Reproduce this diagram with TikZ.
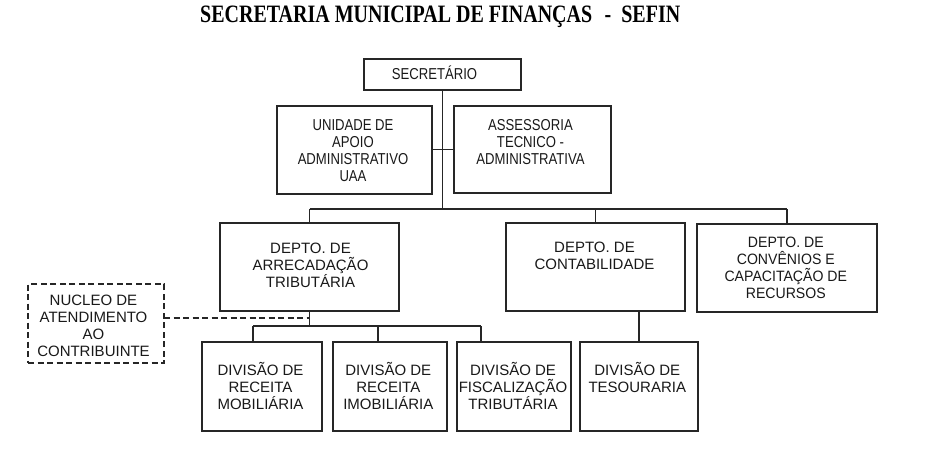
\documentclass[tikz,border=0pt]{standalone}
\usepackage{fontspec}
\setmainfont{Liberation Sans}
\newfontfamily\narrowsans{Liberation Sans}[FakeStretch=0.83]
\newfontfamily\midsans{Liberation Sans}[FakeStretch=0.94]
\newfontfamily\titlefont{Liberation Serif}[FakeStretch=0.80]
\newcommand\ts{\rule{0pt}{12pt}}
\begin{document}
\begin{tikzpicture}[x=1pt,y=-1pt,
  box/.style={draw=black!85, line width=1.1pt, rectangle, inner sep=0pt, outer sep=0pt},
  dbox/.style={draw=black!85, line width=1.8pt, dash pattern=on 6pt off 3.5pt, rectangle, inner sep=0pt, outer sep=0pt},
  txt/.style={anchor=north, inner sep=0pt, align=center, text=black!90, font=\fontsize{15}{17}\selectfont},
  ntxt/.style={txt, font=\narrowsans\fontsize{15.8}{17}\selectfont},
  mtxt/.style={txt, font=\midsans\fontsize{15}{17}\selectfont},
  conn/.style={draw=black!85, line width=1.1pt},
  dconn/.style={draw=black!85, line width=1.8pt, dash pattern=on 6pt off 3.5pt}]
\useasboundingbox[fill=white] (0,0) rectangle (926,469);
% title
\node[anchor=base west, inner sep=0pt, font=\titlefont\bfseries\fontsize{25}{28}\selectfont] (title) at (200,22.3) {SECRETARIA MUNICIPAL DE FINANÇAS\hspace{0.5em}-\hspace{0.4em}SEFIN};
% boxes
\node[box, minimum width=157pt, minimum height=31pt] (sec) at (442.5,74.5) {};
\node[box, minimum width=155pt, minimum height=88pt] (uaa) at (354.5,150) {};
\node[box, minimum width=157pt, minimum height=87pt] (ass) at (532.5,149.5) {};
\node[box, minimum width=179pt, minimum height=88pt] (arr) at (309.5,267) {};
\node[box, minimum width=179pt, minimum height=88pt] (con) at (595.5,267) {};
\node[box, minimum width=180pt, minimum height=88pt] (conv) at (787,268) {};
\node[dbox, minimum width=136pt, minimum height=79pt] (nuc) at (96,323.5) {};
\node[box, minimum width=120pt, minimum height=89pt] (mob) at (262,386.5) {};
\node[box, minimum width=114pt, minimum height=89pt] (imo) at (390,386.5) {};
\node[box, minimum width=114pt, minimum height=89pt] (fis) at (514,386.5) {};
\node[box, minimum width=118pt, minimum height=89pt] (tes) at (639,386.5) {};
% texts
\node[ntxt] (tsec) at (434.5,65.5) {\ts SECRETÁRIO};
\node[ntxt] (tuaa) at (353,118) {\ts UNIDADE DE\\APOIO\\ADMINISTRATIVO\\UAA};
\node[ntxt] (tass) at (530.5,118) {\ts ASSESSORIA\\TECNICO -\\ADMINISTRATIVA};
\node[txt] (tarr) at (310.5,241) {\ts DEPTO. DE\\ARRECADAÇÃO\\TRIBUTÁRIA};
\node[txt] (tcon) at (594.5,240.5) {\ts DEPTO. DE\\CONTABILIDADE};
\node[mtxt] (tconv) at (785.8,235.5) {\ts DEPTO. DE\\CONVÊNIOS E\\CAPACITAÇÃO DE\\RECURSOS};
\node[txt] (tnuc) at (93.5,293) {\ts NUCLEO DE\\ATENDIMENTO\\AO\\CONTRIBUINTE};
\node[txt] (tmob) at (260.5,362) {\ts DIVISÃO DE\\RECEITA\\MOBILIÁRIA};
\node[txt] (timo) at (388.3,362) {\ts DIVISÃO DE\\RECEITA\\IMOBILIÁRIA};
\node[txt] (tfis) at (513,362) {\ts DIVISÃO DE\\FISCALIZAÇÃO\\TRIBUTÁRIA};
\node[txt] (ttes) at (637.3,362) {\ts DIVISÃO DE\\TESOURARIA};
% coordinates
\coordinate (busL) at (309.5,209);
\coordinate (busR) at (787,209);
\coordinate (sbL) at (253,326);
\coordinate (sbM) at (378,326);
\coordinate (sbR) at (481,326);
\coordinate (dsh) at (309.5,318);
\coordinate (stub) at (443,149.5);
% connectors
\draw[conn] (sec.south) -- (sec.south |- busL);
\draw[conn] (stub -| uaa.east) -- (stub -| ass.west);
\draw[conn] (busL) -- (busR);
\draw[conn] (arr.north |- busL) -- (arr.north);
\draw[conn] (con.north |- busL) -- (con.north);
\draw[conn] (conv.north |- busL) -- (conv.north);
\draw[conn] (arr.south) -- (arr.south |- sbL);
\draw[conn] (sbL) -- (sbR);
\draw[conn] (sbL) -- (sbL |- mob.north);
\draw[conn] (sbM) -- (sbM |- imo.north);
\draw[conn] (sbR) -- (sbR |- fis.north);
\draw[conn] (tes.north |- con.south) -- (tes.north);
\draw[dconn] (dsh -| nuc.east) -- (dsh);
\end{tikzpicture}
\end{document}
